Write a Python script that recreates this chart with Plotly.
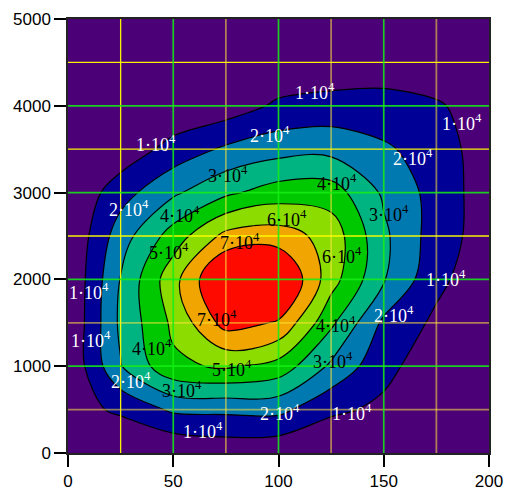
import plotly.graph_objects as go

# ---- data ----
x_vals = [0, 25, 50, 75, 100, 125, 150, 175, 200]
y_vals = [0, 500, 1000, 1500, 2000, 2500, 3000, 3500, 4000, 4500, 5000]
z_vals = [
    [0,     0,     0,     2900,  1600,  0,     0,     0,     0],
    [6000,  11700, 21800, 22200, 22800, 12000, 7900,  1000,  0],
    [1000,  29500, 48000, 51400, 46200, 28200, 12900, 4000,  0],
    [0,     32000, 52000, 74000, 69000, 42000, 18000, 8000,  1000],
    [0,     30500, 56500, 83500, 83500, 54200, 30800, 12500, 3000],
    [0,     25300, 44500, 63000, 65000, 56000, 32000, 15000, 5000],
    [0,     16000, 28300, 38000, 44800, 45000, 28400, 16000, 4500],
    [0,     3000,  13800, 21700, 26000, 26800, 21600, 15000, 4500],
    [0,     0,     1300,  4300,  11800, 13700, 13400, 11200, 5000],
    [0,     0,     0,     0,     1500,  3000,  4900,  3000,  0],
    [0,     0,     0,     0,     0,     0,     0,     0,     0],
]
levels = [10000, 20000, 30000, 40000, 50000, 60000, 70000]
band_colors = ["#4b0078", "#000096", "#0078b0", "#00b482",
               "#00c800", "#8cdc00", "#f0a500", "#ff0a00"]

x_ticks = [0, 50, 100, 150, 200]
y_ticks = [0, 1000, 2000, 3000, 4000, 5000]
x_major = [50, 100, 150]
y_major = [1000, 2000, 3000, 4000]
x_minor_bright = [25]
x_minor_dim = [75, 125, 175]
y_minor_bright = [2500, 3500, 4500]
y_minor_dim = [500, 1500]

# contour label positions and their levels (in units of 10^4)
label_x = [117.5, 187, 96, 164, 41.6, 75.9, 128, 28.8, 53, 152.7, 103.8, 48.2,
           81.5, 130, 179.8, 10.2, 71, 155, 127.5, 11, 40, 126, 78, 29.7, 54,
           100.5, 135, 64]
label_y = [4165, 3813, 3664, 3400, 3571, 3203, 3122, 2822, 2742, 2765, 2696, 2327,
           2442, 2270, 2016, 1855, 1555, 1590, 1475, 1302, 1221, 1060, 979, 841, 726,
           461, 461, 265]
label_level = [1, 1, 2, 2, 1, 3, 4, 2, 4, 3, 6, 5,
               7, 6, 1, 1, 7, 2, 4, 1, 4, 3, 5, 2, 3,
               2, 1, 1]

# ---- figure ----
n = len(band_colors) - 1
colorscale = [[i / n, c] for i, c in enumerate(band_colors)]

fig = go.Figure()
fig.add_trace(go.Contour(
    x=x_vals, y=y_vals, z=z_vals,
    autocontour=False,
    contours=dict(start=levels[0], end=levels[-1], size=levels[1] - levels[0],
                  coloring="fill", showlines=True),
    colorscale=colorscale, showscale=False,
    line=dict(color="black", width=1.2, smoothing=1),
    hoverinfo="skip",
))

shapes = []


def vline(v, color, width):
    return dict(type="line", xref="x", yref="paper", x0=v, x1=v, y0=0, y1=1,
                line=dict(color=color, width=width), layer="above")


def hline(v, color, width):
    return dict(type="line", xref="paper", yref="y", x0=0, x1=1, y0=v, y1=v,
                line=dict(color=color, width=width), layer="above")


bright_yellow = "rgba(255,255,0,0.95)"
dim_yellow = "rgba(255,230,60,0.55)"
lime = "rgba(20,240,20,0.85)"

for v in x_minor_bright:
    shapes.append(vline(v, bright_yellow, 1.3))
for v in x_minor_dim:
    shapes.append(vline(v, dim_yellow, 1.8))
for v in y_minor_bright:
    shapes.append(hline(v, bright_yellow, 1.3))
for v in y_minor_dim:
    shapes.append(hline(v, dim_yellow, 1.8))
for v in x_major:
    shapes.append(vline(v, lime, 1.7))
for v in y_major:
    shapes.append(hline(v, lime, 1.7))

annotations = []
for lx, ly, lv in zip(label_x, label_y, label_level):
    annotations.append(dict(
        x=lx, y=ly, xref="x", yref="y", showarrow=False,
        text=f"{lv}·10<sup>4</sup>",
        font=dict(family="Liberation Serif", size=18,
                  color="white" if lv <= 2 else "black"),
    ))

axis_common = dict(
    showgrid=False, zeroline=False, ticks="outside", ticklen=12, tickwidth=2,
    tickcolor="black", showline=True, linecolor="#222222", linewidth=1.5,
    mirror=True, automargin=False,
    tickfont=dict(family="Liberation Sans", size=17, color="black"),
)

fig.update_layout(
    width=515, height=491,
    margin=dict(l=68, r=26, t=19, b=38),
    paper_bgcolor="white", plot_bgcolor="#4b0078",
    xaxis=dict(range=[0, 200], tickvals=x_ticks, **axis_common),
    yaxis=dict(range=[0, 5000], tickvals=y_ticks, **axis_common),
    shapes=shapes, annotations=annotations, showlegend=False,
)

fig.write_html("out.html")
